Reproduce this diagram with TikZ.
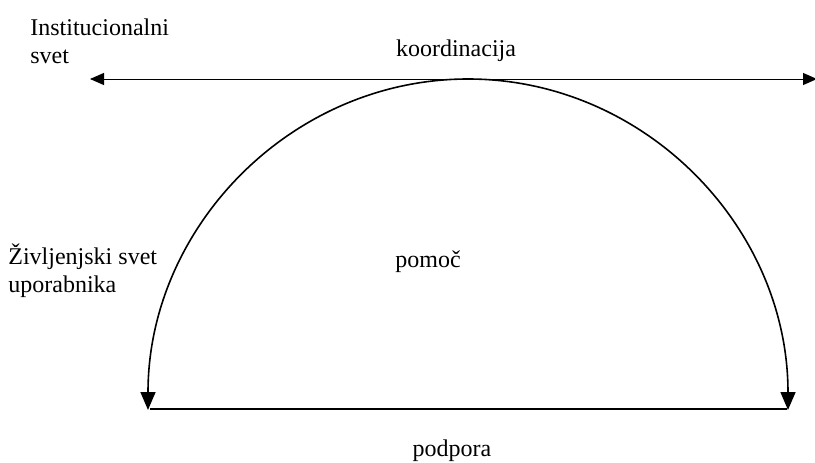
\documentclass[tikz,border=0pt]{standalone}
\usepackage{fontspec}
\setmainfont{Liberation Serif}
\usepackage{tikz}
\usetikzlibrary{arrows.meta, positioning}

\begin{document}
\begin{tikzpicture}[x=0.5pt, y=0.5pt, font=\fontsize{12}{14}\selectfont,
    lbl/.style={inner sep=0pt, align=left}]
  \useasboundingbox (0,0) rectangle (815,462);
  % ============ axis: koordinacija ============
  \coordinate (kl) at (90,383);
  \coordinate (kr) at (817,383);
  \draw[line width=0.5pt, {Triangle[length=7pt, width=6pt]}-{Triangle[length=7pt, width=6pt]}] (kl) -- (kr);
  \node[lbl, anchor=base] (koord) at (456,406) {koordinacija};
  % ============ arc: pomoc ============
  \coordinate (al) at (148,52);
  \coordinate (ar) at (788,52);
  \draw[line width=0.8pt, {Triangle[length=9pt, width=7.5pt]}-{Triangle[length=9pt, width=7.5pt]}]
    (al) arc[start angle=180, end angle=0, x radius=320, y radius=331];
  \node[lbl, anchor=base] (pomoc) at (428,195) {pomoč};
  % ============ base: podpora ============
  \coordinate (bl) at (150,53);
  \coordinate (br) at (787,53);
  \draw[line width=1pt] (bl) -- (br);
  \node[lbl, anchor=base] (podpora) at (452,6) {podpora};
  % ============ side labels ============
  \node[lbl, anchor=base west] (inst) at (30,399) {Institucionalni\\svet};
  \node[lbl, anchor=base west] (zivl) at (8,170) {Življenjski svet\\uporabnika};
\end{tikzpicture}
\end{document}
